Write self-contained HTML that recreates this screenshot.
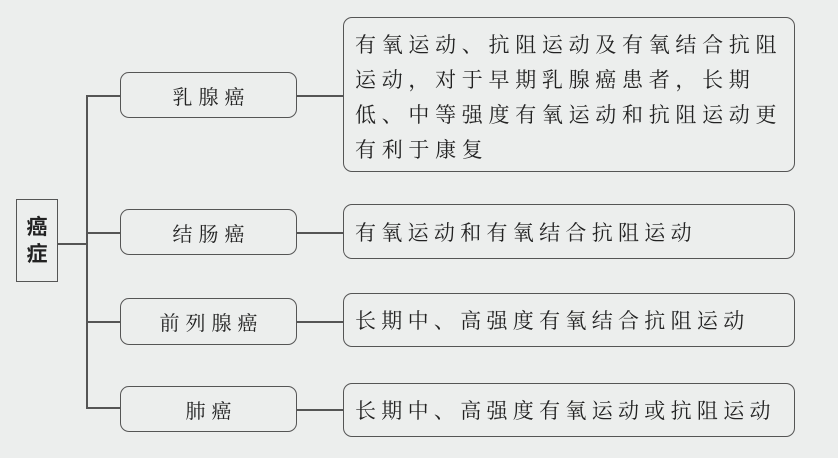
<!DOCTYPE html>
<html><head><meta charset="utf-8"><style>
body{margin:0;width:838px;height:458px;background:#eceeed;position:relative;overflow:hidden;font-family:"Liberation Serif","Noto Serif CJK SC",serif;color:#222}
.b{position:absolute;border:1.5px solid #555;border-radius:9px;box-sizing:border-box;white-space:nowrap}
.l{display:flex;align-items:center;justify-content:center;font-size:20px;letter-spacing:6px;padding-left:6px}
.r{display:flex;align-items:center;padding-left:11px;font-size:21px;letter-spacing:5.3px}
.h{position:absolute;height:1.5px;background:#555}
.v{position:absolute;width:1.5px;background:#555}
</style></head><body>
<div style="position:absolute;left:16px;top:199px;width:42px;height:83px;border:1.5px solid #555;box-sizing:border-box;display:flex;align-items:center;justify-content:center;font-family:'Liberation Sans','Noto Sans CJK SC',sans-serif;font-weight:bold;font-size:21px;line-height:27px;text-align:center">癌<br>症</div>
<div class="h" style="left:58px;top:243px;width:29px"></div>
<div class="v" style="left:86px;top:95px;height:313px"></div>

<div class="h" style="left:86px;top:95px;width:34px"></div>
<div class="b l" style="left:120px;top:72px;width:177px;height:46px">乳腺癌</div>
<div class="h" style="left:297px;top:95px;width:46px"></div>
<div class="b" style="left:343px;top:17px;width:452px;height:155px;padding:10px 0 0 11px;font-size:21px;letter-spacing:5.7px;line-height:35px">有氧运动、抗阻运动及有氧结合抗阻<br>运动，对于早期乳腺癌患者，长期<br>低、中等强度有氧运动和抗阻运动更<br>有利于康复</div>

<div class="h" style="left:86px;top:232px;width:34px"></div>
<div class="b l" style="left:120px;top:209px;width:177px;height:46px">结肠癌</div>
<div class="h" style="left:297px;top:232px;width:46px"></div>
<div class="b r" style="left:343px;top:204px;width:452px;height:55px">有氧运动和有氧结合抗阻运动</div>

<div class="h" style="left:86px;top:321px;width:34px"></div>
<div class="b l" style="left:120px;top:298px;width:177px;height:47px">前列腺癌</div>
<div class="h" style="left:297px;top:321px;width:46px"></div>
<div class="b r" style="left:343px;top:293px;width:452px;height:54px">长期中、高强度有氧结合抗阻运动</div>

<div class="h" style="left:86px;top:407px;width:34px"></div>
<div class="b l" style="left:120px;top:386px;width:177px;height:46px">肺癌</div>
<div class="h" style="left:297px;top:409px;width:46px"></div>
<div class="b r" style="left:343px;top:383px;width:452px;height:54px">长期中、高强度有氧运动或抗阻运动</div>
</body></html>
